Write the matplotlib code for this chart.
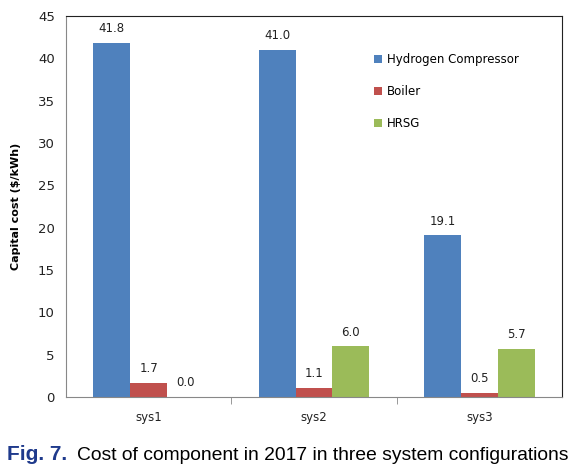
import matplotlib.pyplot as plt
import numpy as np

systems = ['sys1', 'sys2', 'sys3']
hydrogen_compressor = [41.8, 41.0, 19.1]
boiler = [1.7, 1.1, 0.5]
hrsg = [0.0, 6.0, 5.7]
series_names = ['Hydrogen Compressor', 'Boiler', 'HRSG']
colors = ['#4F81BD', '#C0504D', '#9BBB59']

fig = plt.figure(figsize=(5.83, 4.71), dpi=100)
ax = fig.add_axes([66/583, 1 - 397/471, (562-66)/583, (397-16)/471])

x = np.arange(len(systems))
w = 0.223
for k, (vals, name, c) in enumerate(zip([hydrogen_compressor, boiler, hrsg], series_names, colors)):
    pos = x + (k - 1) * w
    ax.bar(pos, vals, width=w, color=c, label=name)
    for p, v in zip(pos, vals):
        ax.text(p, v + 0.9, '%.1f' % v, ha='center', va='bottom', fontsize=8.5, color='#222222')

ax.set_xlim(-0.5, 2.5)
ax.set_ylim(0, 45)
ax.set_yticks(range(0, 46, 5))
ax.set_xticks([0.5, 1.5], minor=True)
ax.set_xticks(x)
ax.set_xticklabels(systems)
ax.tick_params(axis='x', which='major', length=0, pad=10, labelsize=8.5, colors='#222222')
ax.tick_params(axis='x', which='minor', length=5, direction='out', color='#888888')
ax.tick_params(axis='y', length=0, pad=8, labelsize=9.5, colors='#222222')
for s in ['left', 'bottom']:
    ax.spines[s].set_color('#888888')
for s in ['top', 'right']:
    ax.spines[s].set_color('#222222')
ax.set_ylabel('Capital cost ($/kWh)', fontsize=8, fontweight='bold', labelpad=12)

ax.legend(loc='upper left', bbox_to_anchor=(0.6, 0.93), frameon=False, fontsize=8.5,
          handlelength=0.7, handleheight=0.7, handletextpad=0.4, labelspacing=1.6)

fig.text(7/583, 1 - 455/471, 'Fig. 7.', fontsize=15, fontweight='bold', color='#1F3A8C',
         va='center', ha='left', family=['Liberation Sans Narrow', 'Liberation Sans'])
fig.text(77/583, 1 - 455/471, 'Cost of component in 2017 in three system configurations', fontsize=13.9,
         color='black', va='center', ha='left', family=['Liberation Sans Narrow', 'Liberation Sans'])

fig.savefig('out.png', dpi=100)
